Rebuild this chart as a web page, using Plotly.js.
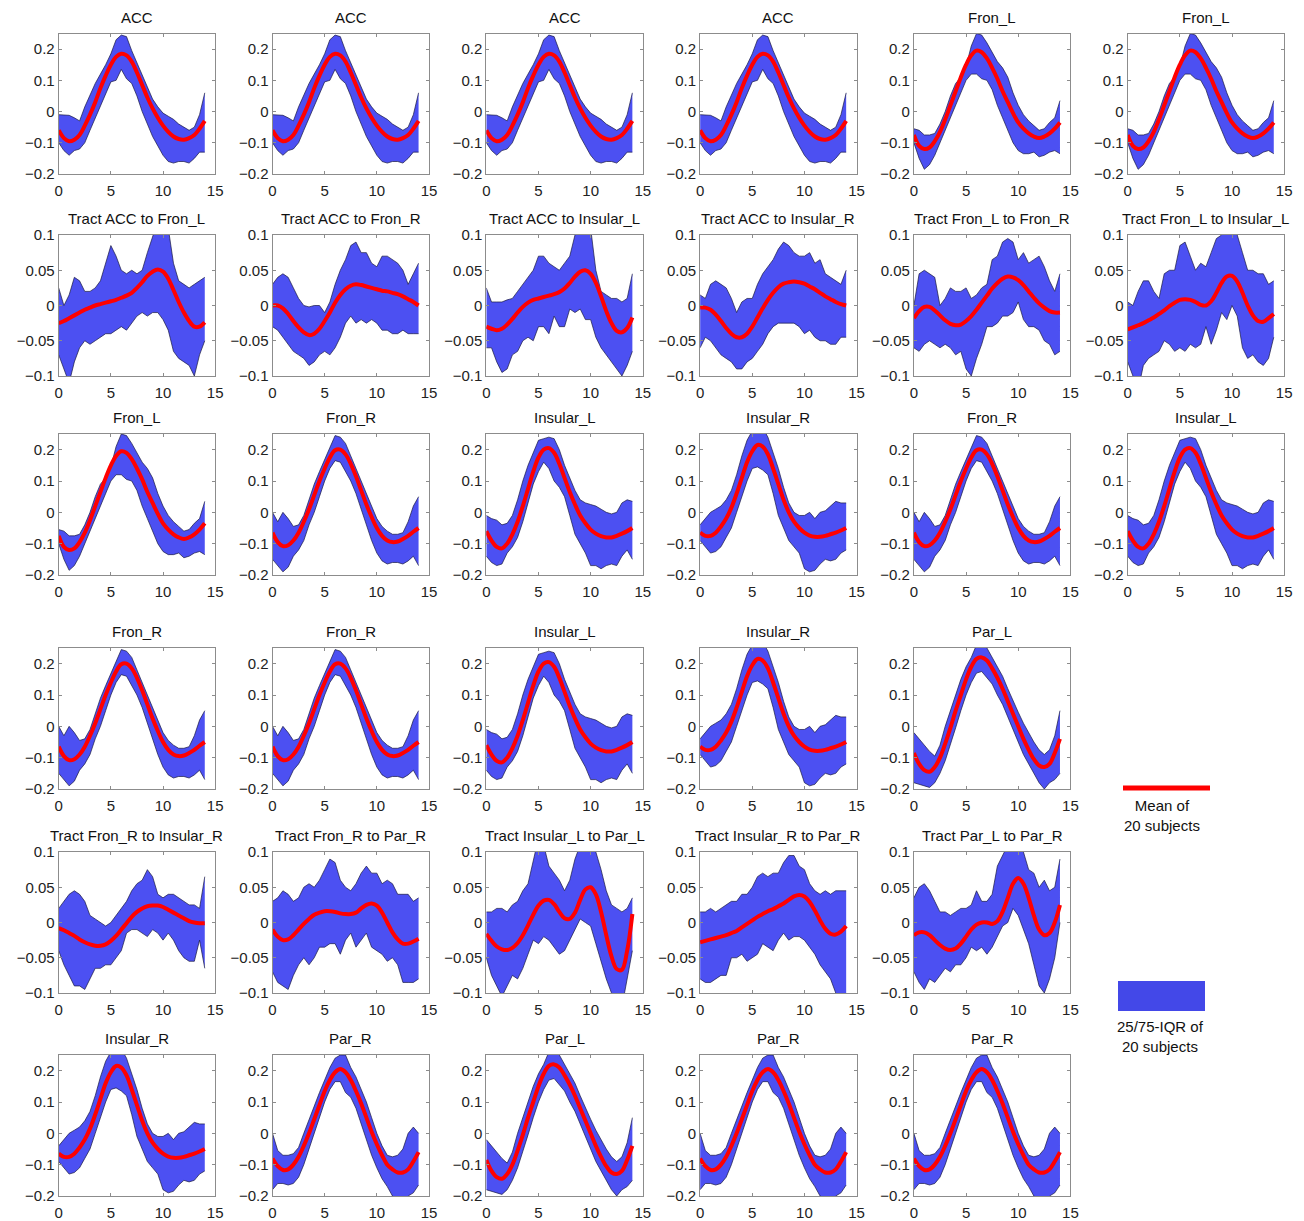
<!DOCTYPE html>
<html><head><meta charset="utf-8">
<script src="https://cdn.plot.ly/plotly-3.0.1.min.js"></script>
<style>body{margin:0;background:#fff}#chart{width:1304px;height:1221px}</style>
</head><body><div id="chart"></div>
<script>
// time axis (s)
const tSec = [0,0.5,1,1.5,2,2.5,3,3.5,4,4.5,5,5.5,6,6.5,7,7.5,8,8.5,9,9.5,10,10.5,11,11.5,12,12.5,13,13.5,14];

// ---- region signals ----
const accMean = [-0.06,-0.085,-0.095,-0.09,-0.075,-0.045,-0.01,0.03,0.075,0.115,0.15,0.175,0.185,0.18,0.16,0.125,0.085,0.045,0.01,-0.02,-0.045,-0.065,-0.08,-0.088,-0.09,-0.085,-0.075,-0.055,-0.03];
const accHi   = [-0.01,-0.01,-0.012,-0.02,-0.03,0.015,0.055,0.09,0.12,0.15,0.185,0.23,0.245,0.24,0.195,0.155,0.115,0.075,0.04,0.015,-0.005,-0.015,-0.025,-0.04,-0.05,-0.06,-0.05,-0.01,0.06];
const accLo   = [-0.1,-0.125,-0.14,-0.125,-0.12,-0.1,-0.06,-0.02,0.02,0.06,0.095,0.1,0.135,0.105,0.09,0.05,0.0,-0.04,-0.08,-0.11,-0.14,-0.16,-0.165,-0.16,-0.16,-0.165,-0.15,-0.13,-0.13];

const fronLMean = [-0.075,-0.11,-0.12,-0.115,-0.095,-0.065,-0.025,0.02,0.065,0.11,0.15,0.18,0.195,0.19,0.17,0.14,0.105,0.065,0.03,-0.005,-0.035,-0.055,-0.07,-0.08,-0.085,-0.08,-0.07,-0.055,-0.035];
const fronLHi   = [-0.055,-0.06,-0.075,-0.075,-0.07,-0.04,0.0,0.05,0.09,0.11,0.145,0.21,0.25,0.245,0.22,0.19,0.16,0.14,0.11,0.06,0.02,-0.01,-0.03,-0.045,-0.06,-0.055,-0.035,-0.02,0.035];
const fronLLo   = [-0.1,-0.15,-0.185,-0.17,-0.14,-0.1,-0.06,-0.02,0.02,0.06,0.1,0.12,0.12,0.105,0.1,0.07,0.02,-0.02,-0.06,-0.1,-0.125,-0.135,-0.135,-0.13,-0.145,-0.14,-0.13,-0.125,-0.135];

const fronRMean = [-0.065,-0.095,-0.108,-0.105,-0.09,-0.065,-0.03,0.01,0.055,0.1,0.14,0.175,0.198,0.2,0.185,0.155,0.115,0.07,0.025,-0.015,-0.05,-0.075,-0.09,-0.095,-0.093,-0.085,-0.075,-0.062,-0.05];
const fronRHi   = [0.0,-0.03,0.0,-0.02,-0.045,-0.04,-0.01,0.04,0.09,0.13,0.17,0.21,0.245,0.24,0.22,0.18,0.14,0.1,0.06,0.02,-0.02,-0.045,-0.06,-0.07,-0.07,-0.065,-0.03,0.02,0.05];
const fronRLo   = [-0.15,-0.17,-0.19,-0.175,-0.14,-0.12,-0.09,-0.04,0.0,0.05,0.1,0.14,0.165,0.16,0.13,0.1,0.06,0.01,-0.04,-0.09,-0.13,-0.155,-0.165,-0.16,-0.16,-0.165,-0.155,-0.14,-0.17];

const insLMean = [-0.06,-0.09,-0.11,-0.115,-0.1,-0.07,-0.03,0.02,0.075,0.13,0.175,0.2,0.205,0.19,0.155,0.11,0.065,0.025,-0.01,-0.035,-0.055,-0.068,-0.076,-0.08,-0.08,-0.075,-0.068,-0.06,-0.05];
const insLHi   = [-0.01,-0.02,-0.025,-0.04,-0.035,-0.01,0.04,0.1,0.15,0.19,0.23,0.235,0.24,0.235,0.2,0.15,0.11,0.07,0.04,0.03,0.025,0.02,0.01,0.0,-0.005,0.0,0.03,0.04,0.035];
const insLLo   = [-0.14,-0.16,-0.17,-0.165,-0.13,-0.11,-0.08,-0.03,0.03,0.09,0.13,0.16,0.14,0.1,0.08,0.05,-0.01,-0.07,-0.1,-0.13,-0.17,-0.17,-0.18,-0.17,-0.165,-0.17,-0.14,-0.12,-0.15];

const insRMean = [-0.065,-0.075,-0.075,-0.065,-0.045,-0.02,0.015,0.06,0.11,0.16,0.195,0.215,0.21,0.185,0.14,0.09,0.04,0.0,-0.03,-0.05,-0.065,-0.074,-0.078,-0.078,-0.075,-0.07,-0.065,-0.058,-0.05];
const insRHi   = [-0.04,-0.02,0.0,0.01,0.02,0.04,0.07,0.12,0.18,0.23,0.26,0.27,0.27,0.24,0.19,0.14,0.08,0.03,0.0,-0.01,-0.01,0.0,-0.02,0.0,0.005,0.02,0.035,0.03,0.03];
const insRLo   = [-0.09,-0.11,-0.13,-0.125,-0.11,-0.08,-0.05,0.0,0.05,0.1,0.14,0.145,0.135,0.12,0.06,-0.01,-0.05,-0.09,-0.11,-0.13,-0.18,-0.19,-0.185,-0.165,-0.15,-0.155,-0.15,-0.13,-0.12];

const parLMean = [-0.085,-0.12,-0.14,-0.145,-0.13,-0.1,-0.055,-0.005,0.05,0.1,0.15,0.19,0.215,0.22,0.21,0.185,0.155,0.12,0.08,0.04,0.0,-0.04,-0.075,-0.105,-0.125,-0.13,-0.12,-0.085,-0.04];
const parLHi   = [-0.02,-0.04,-0.06,-0.08,-0.095,-0.06,0.0,0.05,0.1,0.15,0.19,0.22,0.26,0.27,0.25,0.22,0.19,0.16,0.12,0.08,0.045,0.01,-0.02,-0.05,-0.075,-0.09,-0.075,-0.03,0.05];
const parLLo   = [-0.18,-0.185,-0.19,-0.195,-0.18,-0.15,-0.11,-0.06,-0.005,0.05,0.1,0.14,0.17,0.175,0.155,0.135,0.1,0.07,0.03,-0.01,-0.05,-0.09,-0.12,-0.15,-0.18,-0.2,-0.18,-0.17,-0.15];

const parRMean = [-0.08,-0.105,-0.117,-0.115,-0.1,-0.075,-0.04,0.0,0.045,0.09,0.135,0.17,0.195,0.205,0.195,0.17,0.135,0.095,0.05,0.005,-0.035,-0.07,-0.1,-0.115,-0.125,-0.125,-0.115,-0.09,-0.06];
const parRHi   = [0.0,-0.055,-0.07,-0.07,-0.065,-0.045,0.0,0.045,0.09,0.13,0.17,0.21,0.24,0.25,0.25,0.21,0.18,0.14,0.1,0.05,0.0,-0.04,-0.07,-0.075,-0.07,-0.05,0.0,0.02,0.0];
const parRLo   = [-0.18,-0.16,-0.16,-0.165,-0.16,-0.14,-0.1,-0.05,0.0,0.05,0.1,0.14,0.165,0.165,0.13,0.115,0.08,0.03,-0.02,-0.07,-0.11,-0.145,-0.17,-0.2,-0.21,-0.22,-0.2,-0.19,-0.165];

// ---- tract signals ----
const tAccFlMean = [-0.025,-0.022,-0.018,-0.014,-0.01,-0.006,-0.003,0.0,0.002,0.004,0.006,0.008,0.011,0.014,0.018,0.025,0.033,0.042,0.048,0.051,0.048,0.038,0.022,0.005,-0.01,-0.022,-0.03,-0.03,-0.024];
const tAccFlHi   = [0.025,0.0,0.015,0.04,0.035,0.02,0.02,0.025,0.035,0.06,0.085,0.07,0.05,0.045,0.05,0.045,0.05,0.075,0.1,0.12,0.12,0.11,0.06,0.035,0.03,0.025,0.03,0.035,0.04];
const tAccFlLo   = [-0.07,-0.09,-0.11,-0.08,-0.06,-0.05,-0.055,-0.05,-0.045,-0.04,-0.04,-0.035,-0.03,-0.035,-0.025,-0.015,-0.01,-0.015,-0.01,-0.01,-0.02,-0.035,-0.065,-0.075,-0.08,-0.085,-0.1,-0.07,-0.05];

const tAccFrMean = [0.0,0.0,-0.004,-0.012,-0.022,-0.031,-0.038,-0.042,-0.04,-0.033,-0.022,-0.01,0.004,0.015,0.023,0.028,0.03,0.029,0.027,0.025,0.023,0.021,0.02,0.018,0.016,0.013,0.009,0.005,0.0];
const tAccFrHi   = [0.03,0.04,0.045,0.04,0.025,0.01,0.0,-0.002,0.0,0.0,-0.01,0.005,0.03,0.05,0.065,0.085,0.09,0.075,0.075,0.06,0.055,0.07,0.07,0.065,0.06,0.05,0.03,0.045,0.06];
const tAccFrLo   = [-0.03,-0.035,-0.045,-0.055,-0.065,-0.07,-0.075,-0.085,-0.08,-0.07,-0.065,-0.07,-0.06,-0.045,-0.025,-0.015,-0.025,-0.02,-0.025,-0.02,-0.025,-0.035,-0.035,-0.04,-0.04,-0.035,-0.04,-0.04,-0.04];

const tAccIlMean = [-0.03,-0.033,-0.035,-0.033,-0.027,-0.019,-0.01,-0.002,0.004,0.008,0.01,0.012,0.014,0.016,0.019,0.024,0.032,0.041,0.048,0.05,0.045,0.032,0.013,-0.008,-0.025,-0.036,-0.038,-0.032,-0.017];
const tAccIlHi   = [0.025,0.005,0.005,0.005,0.008,0.01,0.02,0.03,0.04,0.05,0.07,0.07,0.06,0.055,0.05,0.06,0.07,0.1,0.12,0.12,0.11,0.05,0.02,0.015,0.01,0.01,0.005,0.01,0.045];
const tAccIlLo   = [-0.06,-0.06,-0.08,-0.095,-0.09,-0.07,-0.065,-0.05,-0.045,-0.05,-0.03,-0.03,-0.04,-0.015,-0.03,-0.03,-0.005,-0.01,-0.005,-0.02,-0.02,-0.045,-0.06,-0.07,-0.08,-0.09,-0.1,-0.085,-0.065];

const tAccIrMean = [-0.003,-0.003,-0.006,-0.013,-0.022,-0.032,-0.04,-0.045,-0.045,-0.04,-0.03,-0.017,-0.004,0.008,0.018,0.026,0.031,0.033,0.034,0.033,0.031,0.027,0.023,0.018,0.013,0.009,0.005,0.002,0.0];
const tAccIrHi   = [0.015,0.01,0.03,0.035,0.03,0.025,0.01,-0.01,0.005,0.01,0.01,0.03,0.045,0.055,0.065,0.08,0.09,0.085,0.075,0.07,0.07,0.075,0.06,0.065,0.045,0.04,0.035,0.03,0.05];
const tAccIrLo   = [-0.06,-0.045,-0.05,-0.06,-0.07,-0.075,-0.08,-0.09,-0.09,-0.08,-0.075,-0.065,-0.055,-0.04,-0.03,-0.025,-0.025,-0.025,-0.025,-0.03,-0.04,-0.035,-0.045,-0.05,-0.05,-0.055,-0.055,-0.045,-0.045];

const tFlFrMean = [-0.018,-0.008,-0.002,-0.002,-0.007,-0.014,-0.021,-0.026,-0.028,-0.027,-0.022,-0.015,-0.006,0.004,0.014,0.024,0.032,0.038,0.041,0.04,0.036,0.029,0.02,0.011,0.003,-0.003,-0.008,-0.01,-0.01];
const tFlFrHi   = [0.0,0.045,0.05,0.045,0.04,0.0,0.01,0.025,0.02,0.02,0.025,0.01,0.015,0.025,0.03,0.065,0.07,0.09,0.095,0.09,0.065,0.075,0.06,0.065,0.07,0.055,0.035,0.02,0.045];
const tFlFrLo   = [-0.06,-0.065,-0.055,-0.05,-0.055,-0.06,-0.055,-0.06,-0.07,-0.065,-0.09,-0.1,-0.075,-0.055,-0.03,-0.03,-0.025,-0.015,-0.015,-0.01,0.005,-0.02,-0.03,-0.03,-0.035,-0.05,-0.055,-0.07,-0.065];

const tFlIlMean = [-0.034,-0.031,-0.028,-0.025,-0.021,-0.017,-0.012,-0.007,-0.001,0.004,0.008,0.009,0.008,0.005,0.001,0.0,0.006,0.018,0.032,0.041,0.042,0.034,0.018,0.0,-0.014,-0.022,-0.023,-0.018,-0.012];
const tFlIlHi   = [0.005,0.0,0.02,0.035,0.035,0.02,0.01,0.045,0.05,0.05,0.085,0.09,0.07,0.05,0.06,0.055,0.075,0.095,0.1,0.12,0.12,0.1,0.075,0.05,0.05,0.045,0.045,0.03,0.035];
const tFlIlLo   = [-0.08,-0.1,-0.12,-0.085,-0.075,-0.07,-0.065,-0.05,-0.055,-0.065,-0.06,-0.065,-0.055,-0.06,-0.055,-0.03,-0.055,-0.035,-0.01,-0.02,0.0,-0.015,-0.06,-0.075,-0.07,-0.08,-0.085,-0.075,-0.045];

const tFrIrMean = [-0.008,-0.011,-0.015,-0.019,-0.024,-0.028,-0.031,-0.033,-0.033,-0.031,-0.026,-0.019,-0.01,-0.001,0.008,0.015,0.02,0.023,0.024,0.024,0.022,0.018,0.014,0.01,0.006,0.002,0.0,-0.001,-0.001];
const tFrIrHi   = [0.02,0.03,0.04,0.045,0.04,0.03,0.01,0.005,0.0,-0.005,0.0,0.01,0.02,0.03,0.045,0.055,0.06,0.075,0.065,0.04,0.035,0.04,0.04,0.035,0.03,0.025,0.025,0.02,0.065];
const tFrIrLo   = [-0.04,-0.06,-0.075,-0.09,-0.09,-0.095,-0.08,-0.065,-0.065,-0.06,-0.06,-0.05,-0.04,-0.015,-0.01,-0.01,-0.015,-0.02,-0.01,-0.015,-0.025,-0.015,-0.025,-0.04,-0.05,-0.055,-0.055,-0.025,-0.065];

const tFrPrMean = [-0.01,-0.02,-0.025,-0.024,-0.018,-0.01,-0.002,0.005,0.011,0.014,0.016,0.016,0.015,0.013,0.012,0.012,0.014,0.02,0.025,0.027,0.024,0.014,0.0,-0.014,-0.024,-0.03,-0.03,-0.027,-0.023];
const tFrPrHi   = [0.03,0.035,0.045,0.04,0.03,0.035,0.05,0.055,0.05,0.06,0.075,0.09,0.085,0.06,0.05,0.045,0.055,0.07,0.08,0.07,0.07,0.055,0.06,0.055,0.04,0.04,0.04,0.03,0.035];
const tFrPrLo   = [-0.07,-0.085,-0.09,-0.095,-0.075,-0.06,-0.05,-0.06,-0.05,-0.035,-0.035,-0.03,-0.03,-0.045,-0.025,-0.015,-0.035,-0.025,-0.015,-0.035,-0.04,-0.045,-0.055,-0.05,-0.06,-0.085,-0.085,-0.085,-0.08];

const tIlPlMean = [-0.016,-0.026,-0.034,-0.038,-0.039,-0.036,-0.029,-0.018,-0.004,0.011,0.024,0.031,0.032,0.026,0.015,0.006,0.005,0.014,0.032,0.047,0.05,0.04,0.015,-0.018,-0.048,-0.066,-0.067,-0.04,0.012];
const tIlPlHi   = [0.015,0.015,0.02,0.02,0.015,0.025,0.03,0.045,0.055,0.09,0.12,0.11,0.08,0.07,0.06,0.045,0.06,0.09,0.11,0.12,0.12,0.1,0.075,0.045,0.025,0.02,0.015,0.02,0.035];
const tIlPlLo   = [-0.05,-0.075,-0.09,-0.105,-0.09,-0.075,-0.08,-0.065,-0.045,-0.025,-0.03,-0.02,-0.025,-0.035,-0.045,-0.04,-0.025,-0.01,0.005,0.0,-0.005,-0.03,-0.055,-0.08,-0.1,-0.12,-0.12,-0.08,-0.04];

const tIrPrMean = [-0.028,-0.026,-0.024,-0.022,-0.02,-0.018,-0.015,-0.012,-0.007,-0.002,0.003,0.008,0.012,0.016,0.019,0.023,0.027,0.032,0.037,0.039,0.037,0.029,0.017,0.003,-0.009,-0.016,-0.017,-0.013,-0.005];
const tIrPrHi   = [0.015,0.015,0.02,0.015,0.02,0.025,0.03,0.03,0.04,0.04,0.05,0.065,0.07,0.065,0.07,0.07,0.085,0.095,0.095,0.08,0.075,0.055,0.045,0.04,0.045,0.04,0.045,0.045,0.045];
const tIrPrLo   = [-0.08,-0.085,-0.085,-0.08,-0.075,-0.075,-0.05,-0.05,-0.045,-0.055,-0.05,-0.045,-0.03,-0.035,-0.04,-0.025,-0.015,-0.025,-0.02,-0.02,-0.025,-0.035,-0.045,-0.06,-0.07,-0.08,-0.1,-0.11,-0.1];

const tPlPrMean = [-0.018,-0.014,-0.014,-0.018,-0.025,-0.032,-0.037,-0.039,-0.037,-0.03,-0.02,-0.01,-0.003,0.0,0.0,-0.002,0.002,0.015,0.035,0.055,0.063,0.055,0.035,0.01,-0.01,-0.018,-0.015,0.0,0.025];
const tPlPrHi   = [0.035,0.05,0.055,0.045,0.03,0.015,0.015,0.01,0.015,0.02,0.02,0.025,0.045,0.03,0.03,0.04,0.08,0.095,0.11,0.12,0.12,0.1,0.075,0.07,0.05,0.06,0.045,0.05,0.09];
const tPlPrLo   = [-0.07,-0.085,-0.095,-0.08,-0.085,-0.075,-0.065,-0.07,-0.06,-0.06,-0.05,-0.035,-0.04,-0.035,-0.045,-0.035,-0.02,-0.005,0.0,0.02,0.01,-0.01,-0.03,-0.06,-0.09,-0.1,-0.08,-0.05,0.0];

// ---- panel titles per row ----
const row1Titles = ['ACC','ACC','ACC','ACC','Fron_L','Fron_L'];
const row2Titles = ['Tract ACC to Fron_L','Tract ACC to Fron_R','Tract ACC to Insular_L','Tract ACC to Insular_R','Tract Fron_L to Fron_R','Tract Fron_L to Insular_L'];
const row3Titles = ['Fron_L','Fron_R','Insular_L','Insular_R','Fron_R','Insular_L'];
const row4Titles = ['Fron_R','Fron_R','Insular_L','Insular_R','Par_L'];
const row5Titles = ['Tract Fron_R to Insular_R','Tract Fron_R to Par_R','Tract Insular_L to Par_L','Tract Insular_R to Par_R','Tract Par_L to Par_R'];
const row6Titles = ['Insular_R','Par_R','Par_L','Par_R','Par_R'];

const regionTicks = [-0.2,-0.1,0,0.1,0.2];
const tractTicks = [-0.1,-0.05,0,0.05,0.1];
const xTicks = [0,5,10,15];

// lookup built from the arrays above
const sig = {
  'ACC':[accMean,accLo,accHi],'Fron_L':[fronLMean,fronLLo,fronLHi],'Fron_R':[fronRMean,fronRLo,fronRHi],
  'Insular_L':[insLMean,insLLo,insLHi],'Insular_R':[insRMean,insRLo,insRHi],'Par_L':[parLMean,parLLo,parLHi],'Par_R':[parRMean,parRLo,parRHi],
  'Tract ACC to Fron_L':[tAccFlMean,tAccFlLo,tAccFlHi],'Tract ACC to Fron_R':[tAccFrMean,tAccFrLo,tAccFrHi],
  'Tract ACC to Insular_L':[tAccIlMean,tAccIlLo,tAccIlHi],'Tract ACC to Insular_R':[tAccIrMean,tAccIrLo,tAccIrHi],
  'Tract Fron_L to Fron_R':[tFlFrMean,tFlFrLo,tFlFrHi],'Tract Fron_L to Insular_L':[tFlIlMean,tFlIlLo,tFlIlHi],
  'Tract Fron_R to Insular_R':[tFrIrMean,tFrIrLo,tFrIrHi],'Tract Fron_R to Par_R':[tFrPrMean,tFrPrLo,tFrPrHi],
  'Tract Insular_L to Par_L':[tIlPlMean,tIlPlLo,tIlPlHi],'Tract Insular_R to Par_R':[tIrPrMean,tIrPrLo,tIrPrHi],
  'Tract Par_L to Par_R':[tPlPrMean,tPlPrLo,tPlPrHi]
};

const W = 1304, H = 1221;
const rowTop = [33.5,235,434,648,852,1055];
const rowBot = [174,376,575,789,993,1196];
const colLeft0 = 58.7, colStep = 213.8, colW = 156.5;
const FONT = 'Liberation Sans, Arial, Helvetica, sans-serif';
const rows = [row1Titles,row2Titles,row3Titles,row4Titles,row5Titles,row6Titles];

const data = [];
const layout = {
  width: W, height: H, margin:{l:0,r:0,t:0,b:0}, showlegend:false,
  paper_bgcolor:'#fff', plot_bgcolor:'#fff', font:{family:FONT, size:15, color:'#222'},
  annotations: [], shapes: []
};

let idx = 0;
rows.forEach((titles, r) => {
  titles.forEach((title, c) => {
    idx++;
    const xa = 'x' + (idx===1?'':idx), ya = 'y' + (idx===1?'':idx);
    const xk = 'xaxis' + (idx===1?'':idx), yk = 'yaxis' + (idx===1?'':idx);
    const isTract = title.startsWith('Tract');
    const [m, lo, hi] = sig[title];
    const l = colLeft0 + colStep*c, rr = l + colW;
    layout[xk] = {
      domain:[l/W, rr/W], range:[0,15], tickvals:xTicks, anchor:ya,
      showline:true, mirror:'ticks', linecolor:'#8c8c8c', linewidth:1,
      ticks:'inside', ticklen:3, tickcolor:'#8c8c8c', showgrid:false, zeroline:false,
      ticklabelstandoff:3,
      tickfont:{size:15, family:FONT, color:'#222'}, fixedrange:true
    };
    layout[yk] = {
      domain:[1-rowBot[r]/H, 1-rowTop[r]/H], range: isTract?[-0.1,0.1]:[-0.2,0.25],
      tickvals: isTract?tractTicks:regionTicks, anchor:xa,
      showline:true, mirror:'ticks', linecolor:'#8c8c8c', linewidth:1,
      ticks:'inside', ticklen:3, tickcolor:'#8c8c8c', showgrid:false, zeroline:false,
      tickfont:{size:15, family:FONT, color:'#222'}, fixedrange:true
    };
    data.push({x:tSec, y:lo, xaxis:xa, yaxis:ya, type:'scatter', mode:'lines',
      line:{color:'#1a1a40', width:0.7}, hoverinfo:'skip'});
    data.push({x:tSec, y:hi, xaxis:xa, yaxis:ya, type:'scatter', mode:'lines', fill:'tonexty',
      fillcolor:'rgb(76,80,242)', line:{color:'#1a1a40', width:0.7}, hoverinfo:'skip'});
    data.push({x:tSec, y:m, xaxis:xa, yaxis:ya, type:'scatter', mode:'lines',
      line:{color:'rgb(255,0,0)', width:4, shape:'spline', smoothing:1}, hoverinfo:'skip'});
    layout.annotations.push({text:title, xref:'paper', yref:'paper', x:(l+rr)/2/W, y:1-rowTop[r]/H,
      xanchor:'center', yanchor:'bottom', yshift:6, showarrow:false, font:{size:15, family:FONT, color:'#111'}});
  });
});

// legend drawn in the empty slot
layout.shapes.push({type:'line', xref:'paper', yref:'paper', x0:1123/W, x1:1210/W, y0:1-788/H, y1:1-788/H,
  line:{color:'rgb(255,0,0)', width:5}});
layout.shapes.push({type:'rect', xref:'paper', yref:'paper', x0:1118/W, x1:1205/W, y0:1-1011/H, y1:1-981/H,
  fillcolor:'rgb(67,72,232)', line:{width:0}});
layout.annotations.push({text:'Mean of<br>20 subjects', xref:'paper', yref:'paper', x:1162/W, y:1-815/H,
  xanchor:'center', yanchor:'middle', showarrow:false, font:{size:15, family:FONT, color:'#111'}});
layout.annotations.push({text:'25/75-IQR of<br>20 subjects', xref:'paper', yref:'paper', x:1160/W, y:1-1036/H,
  xanchor:'center', yanchor:'middle', showarrow:false, font:{size:15, family:FONT, color:'#111'}});

Plotly.newPlot('chart', data, layout, {staticPlot:true, displayModeBar:false});
</script></body></html>
